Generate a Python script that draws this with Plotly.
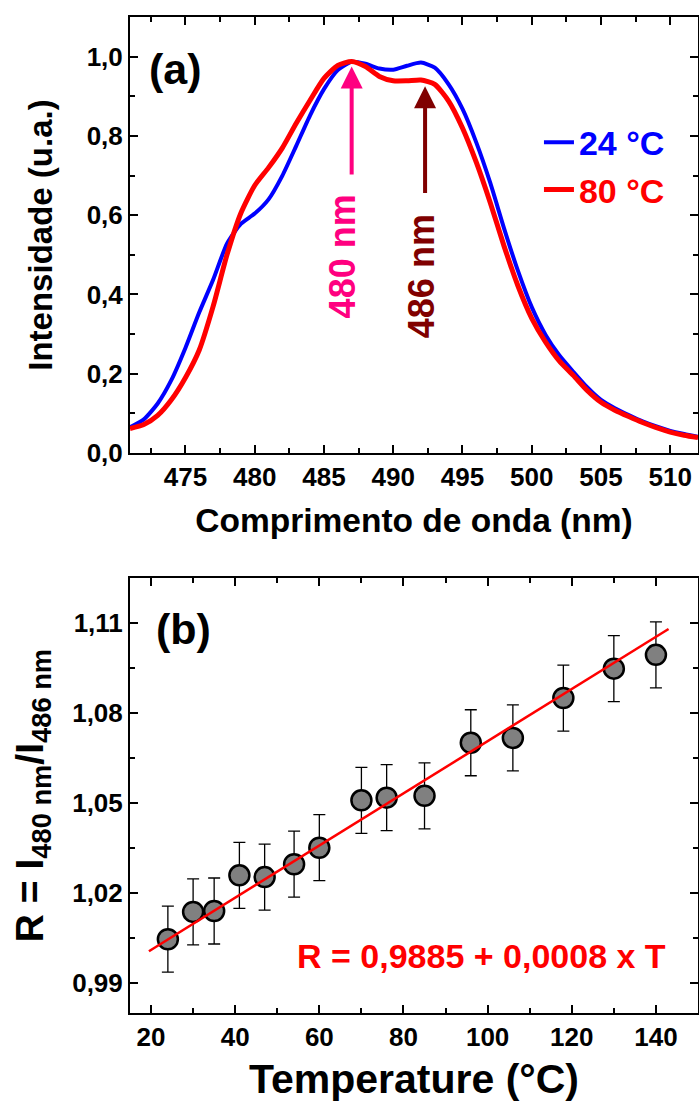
import plotly.graph_objects as go

# ---- Panel (a): emission spectra ----
wavelength_nm = [471, 472, 473, 474, 475, 476, 477, 478, 479, 480, 481, 482, 483, 484,
                 485, 486, 487, 488, 489, 490, 491, 492, 493, 494, 495, 496, 497, 498,
                 499, 500, 501, 502, 503, 504, 505, 506, 507, 508, 509, 510, 511, 512]
intensity_24C = [0.065, 0.085, 0.125, 0.185, 0.265, 0.355, 0.437, 0.528, 0.578, 0.604,
                 0.640, 0.700, 0.775, 0.852, 0.918, 0.966, 0.987, 0.982, 0.970, 0.967,
                 0.977, 0.985, 0.972, 0.930, 0.868, 0.783, 0.682, 0.567, 0.460, 0.368,
                 0.298, 0.246, 0.205, 0.166, 0.134, 0.113, 0.096, 0.080, 0.067, 0.056,
                 0.048, 0.041]
intensity_80C = [0.062, 0.072, 0.095, 0.135, 0.190, 0.260, 0.370, 0.500, 0.605, 0.675,
                 0.720, 0.770, 0.832, 0.890, 0.945, 0.978, 0.988, 0.975, 0.950, 0.939,
                 0.939, 0.941, 0.930, 0.888, 0.820, 0.733, 0.632, 0.522, 0.422, 0.340,
                 0.280, 0.232, 0.196, 0.158, 0.128, 0.108, 0.092, 0.077, 0.064, 0.053,
                 0.045, 0.039]
series_names = ["24 °C", "80 °C"]

# ---- Panel (b): ratio vs temperature ----
temperature_C = [24, 30, 35, 41, 47, 54, 60, 70, 76, 85, 96, 106, 118, 130, 140]
ratio_R = [1.0046, 1.0137, 1.0140, 1.0259, 1.0253, 1.0296, 1.0351, 1.0509, 1.0518,
           1.0524, 1.0701, 1.0717, 1.0850, 1.0948, 1.0994]
ratio_err = [0.011] * 15
fit_T = [19.5, 143.0]
fit_R = [1.0006, 1.1080]

FONT = "Liberation Sans, Arial, sans-serif"

fig = go.Figure()

fig.add_trace(go.Scatter(x=wavelength_nm, y=intensity_24C, mode="lines",
                         name='<span style="color:#0000FF">' + series_names[0] + '</span>',
                         line=dict(color="#0000FF", width=4, shape="spline", smoothing=0.6),
                         xaxis="x", yaxis="y"))
fig.add_trace(go.Scatter(x=wavelength_nm, y=intensity_80C, mode="lines",
                         name='<span style="color:#FF0000">' + series_names[1] + '</span>',
                         line=dict(color="#FF0000", width=5, shape="spline", smoothing=0.6),
                         xaxis="x", yaxis="y"))

fig.add_trace(go.Scatter(x=temperature_C, y=ratio_R, mode="markers", showlegend=False,
                         error_y=dict(type="data", array=ratio_err, visible=True,
                                      color="#000000", thickness=1.3, width=6),
                         marker=dict(size=20, color="#808080",
                                     line=dict(color="#000000", width=2.5)),
                         xaxis="x2", yaxis="y2"))
fig.add_trace(go.Scatter(x=fit_T, y=fit_R, mode="lines", showlegend=False,
                         line=dict(color="#FF0000", width=2.5),
                         xaxis="x2", yaxis="y2"))

axis_common = dict(showline=True, linecolor="black", linewidth=2, mirror="allticks",
                   ticks="inside", ticklen=8, tickwidth=2, tickcolor="black",
                   showgrid=False, zeroline=False, automargin=False,
                   tickfont=dict(family=FONT, size=26, color="black", weight="bold"))

fig.update_layout(
    width=699, height=1102,
    margin=dict(l=130, r=1, t=17, b=89),
    paper_bgcolor="white", plot_bgcolor="white",
    separators=",.",
    font=dict(family=FONT, color="black", weight="bold"),
    showlegend=True,
    legend=dict(x=0.72, y=0.903, xanchor="left", yanchor="top",
                bgcolor="rgba(0,0,0,0)", borderwidth=0,
                font=dict(family=FONT, size=34, weight="bold"),
                tracegroupgap=0, itemwidth=30),
    xaxis=dict(axis_common, domain=[0, 1], anchor="y", range=[471, 512],
               tick0=475, dtick=5,
               minor=dict(ticks="inside", ticklen=5, tickwidth=2, dtick=2.5, tick0=475),
               title=dict(text="Comprimento de onda (nm)", standoff=17,
                          font=dict(family=FONT, size=33.5, weight="bold"))),
    yaxis=dict(axis_common, domain=[0.5622, 1], anchor="x", range=[0, 1.1],
               tick0=0, dtick=0.2, tickformat=".1f",
               minor=dict(ticks="inside", ticklen=5, tickwidth=2, dtick=0.1, tick0=0),
               title=dict(text="Intensidade (u.a.)", standoff=24,
                          font=dict(family=FONT, size=33, weight="bold"))),
    xaxis2=dict(axis_common, domain=[0, 1], anchor="y2", range=[15, 150],
                tick0=20, dtick=20,
                minor=dict(ticks="inside", ticklen=5, tickwidth=2, dtick=10, tick0=20),
                title=dict(text="Temperature (°C)", standoff=15,
                           font=dict(family=FONT, size=41, weight="bold"))),
    yaxis2=dict(axis_common, domain=[0, 0.4367], anchor="x2", range=[0.98, 1.125],
                tick0=0.99, dtick=0.03, tickformat=".2f",
                minor=dict(ticks="inside", ticklen=5, tickwidth=2, dtick=0.015, tick0=0.99),
                title=dict(text="R = I<sub>480 nm</sub>/I<sub>486 nm</sub>", standoff=17,
                           font=dict(family=FONT, size=39, weight="bold"))),
)

annotations = [
    dict(text="(a)", x=474.3, y=0.968, xref="x", yref="y", showarrow=False,
         font=dict(family=FONT, size=43, weight="bold", color="black")),
    dict(text="(b)", x=27.7, y=1.108, xref="x2", yref="y2", showarrow=False,
         font=dict(family=FONT, size=43, weight="bold", color="black")),
    dict(text="R = 0,9885 + 0,0008 x T", x=98.6, y=0.999, xref="x2", yref="y2",
         showarrow=False, font=dict(family=FONT, size=34, weight="bold", color="#FF0000")),
    # arrows
    dict(text="", x=487.0, y=0.975, ax=487.0, ay=0.699, xref="x", yref="y",
         axref="x", ayref="y", showarrow=True, arrowhead=2, arrowsize=1.1,
         arrowwidth=4, arrowcolor="#FF0080", standoff=0, startstandoff=0),
    dict(text="", x=492.3, y=0.925, ax=492.3, ay=0.652, xref="x", yref="y",
         axref="x", ayref="y", showarrow=True, arrowhead=2, arrowsize=1.1,
         arrowwidth=4, arrowcolor="#800000", standoff=0, startstandoff=0),
    dict(text="480 nm", x=486.3, y=0.496, xref="x", yref="y", showarrow=False,
         textangle=-90, font=dict(family=FONT, size=36, weight="bold", color="#FF0080")),
    dict(text="486 nm", x=492.0, y=0.446, xref="x", yref="y", showarrow=False,
         textangle=-90, font=dict(family=FONT, size=36, weight="bold", color="#800000")),
]
fig.update_layout(annotations=annotations)

fig.write_html("out.html", config={"displayModeBar": False},
               post_script="document.body.style.margin='0';document.body.style.overflow='hidden';")
